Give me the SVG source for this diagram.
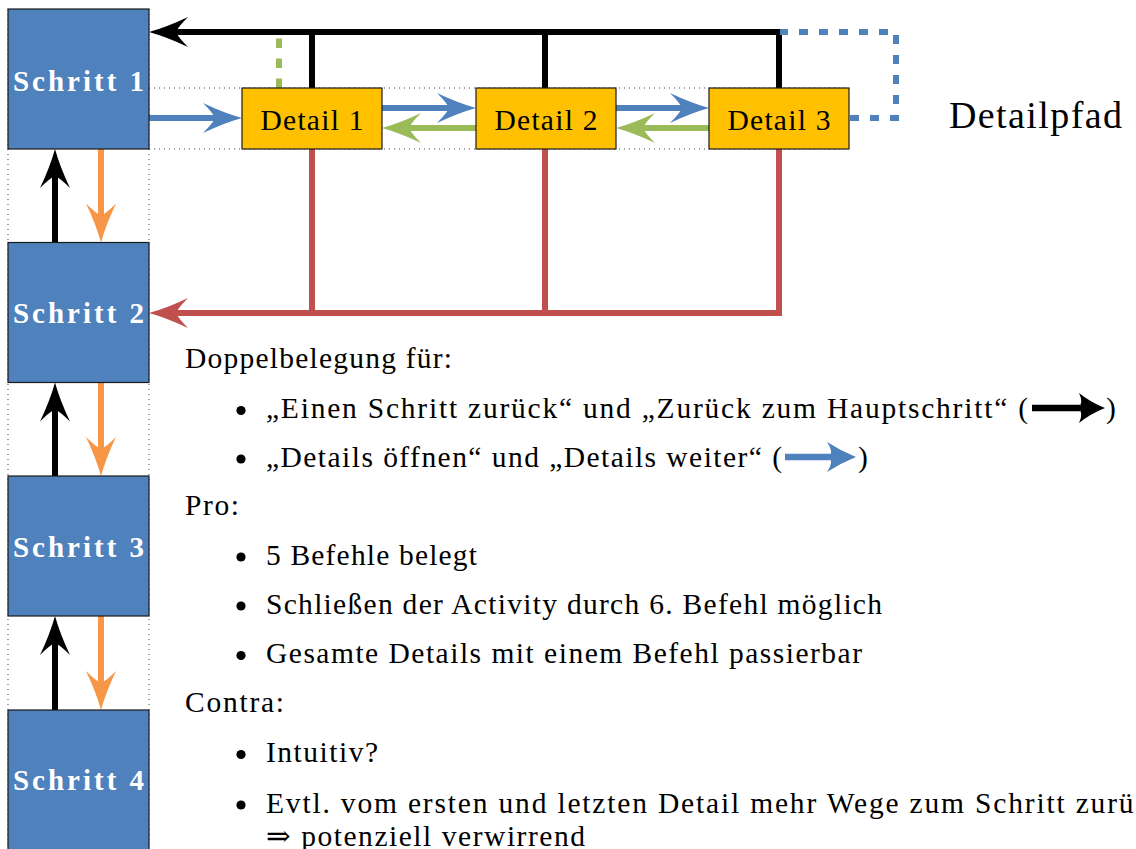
<svg xmlns="http://www.w3.org/2000/svg" width="1136" height="849" viewBox="0 0 1136 849">
  <style>
    .step { fill: #4F81BD; stroke: #1a1a1a; stroke-width: 1.2; }
    .detail { fill: #FFC000; stroke: #1a1a1a; stroke-width: 1.2; }
    .steplabel { font-weight: bold; font-size: 29px; fill: #ffffff; text-anchor: middle; }
    .detaillabel { font-size: 29.5px; fill: #000000; text-anchor: middle; }
    .body { font-size: 29.5px; fill: #000000; }
    .big { font-size: 38px; }
    .guide { stroke: #444444; stroke-width: 1; stroke-dasharray: 1 4; fill: none; }
    .wire { fill: none; stroke-width: 6; stroke-linejoin: miter; }
    .black { stroke: #000000; }
    .blue { stroke: #4F81BD; }
    .green { stroke: #9BBB59; }
    .red { stroke: #C0504D; }
    .orange { stroke: #F79646; }
  </style>
  <defs>
    <!-- notched arrowhead; the line ends at the notch, the tip sits 26px ahead -->
    <path id="head" d="M0,0 Q-18,-5 -39,-15 Q-29,-5 -27,0 Q-29,5 -39,15 Q-18,5 0,0 Z"/>
    <marker id="ah-black" markerUnits="userSpaceOnUse" orient="auto" refX="-26" refY="0" overflow="visible" markerWidth="1" markerHeight="1">
      <use href="#head" fill="#000000"/>
    </marker>
    <marker id="ah-blue" markerUnits="userSpaceOnUse" orient="auto" refX="-26" refY="0" overflow="visible" markerWidth="1" markerHeight="1">
      <use href="#head" fill="#4F81BD"/>
    </marker>
    <marker id="ah-green" markerUnits="userSpaceOnUse" orient="auto" refX="-26" refY="0" overflow="visible" markerWidth="1" markerHeight="1">
      <use href="#head" fill="#9BBB59"/>
    </marker>
    <marker id="ah-red" markerUnits="userSpaceOnUse" orient="auto" refX="-26" refY="0" overflow="visible" markerWidth="1" markerHeight="1">
      <use href="#head" fill="#C0504D"/>
    </marker>
    <marker id="ah-orange" markerUnits="userSpaceOnUse" orient="auto" refX="-26" refY="0" overflow="visible" markerWidth="1" markerHeight="1">
      <use href="#head" fill="#F79646"/>
    </marker>
  </defs>

  <rect width="1136" height="849" fill="#ffffff"/>

  <!-- dotted frames around the step column and the detail row -->
  <g id="guides">
    <path class="guide" d="M8,9 V849 M149,9 V849"/>
    <path class="guide" d="M149,88 H849 M149,149 H849"/>
  </g>

  <!-- connectors -->
  <g id="connectors">
    <!-- back to main step (black bus) -->
    <path class="wire black" d="M779,88 V32 H175" marker-end="url(#ah-black)"/>
    <path class="wire black" d="M545,88 V32 M312,88 V32"/>
    <!-- one step back (red bus) -->
    <path class="wire red" d="M779,149 V313 H175" marker-end="url(#ah-red)"/>
    <path class="wire red" d="M545,149 V313 M312,149 V313"/>
    <!-- green dashed stub from Detail 1 -->
    <path class="wire green" d="M279,88 V32" stroke-dasharray="9.5 10.5"/>
    <!-- blue dashed loop from Detail 3 -->
    <path class="wire blue" d="M850,118 H896 V32 H780" stroke-dasharray="9 11"/>
    <!-- open details / next detail -->
    <path class="wire blue" d="M149,118 H216" marker-end="url(#ah-blue)"/>
    <path class="wire blue" d="M382,108 H450" marker-end="url(#ah-blue)"/>
    <path class="wire blue" d="M616,108 H683" marker-end="url(#ah-blue)"/>
    <!-- previous detail -->
    <path class="wire green" d="M476,128 H408" marker-end="url(#ah-green)"/>
    <path class="wire green" d="M709,128 H642" marker-end="url(#ah-green)"/>
    <!-- step column: up (black) and down (orange) -->
    <path class="wire black" d="M55,242.5 V175" marker-end="url(#ah-black)"/>
    <path class="wire orange" d="M101,149 V216.5" marker-end="url(#ah-orange)"/>
    <path class="wire black" d="M55,476 V408.5" marker-end="url(#ah-black)"/>
    <path class="wire orange" d="M101,382.5 V450" marker-end="url(#ah-orange)"/>
    <path class="wire black" d="M55,710 V642" marker-end="url(#ah-black)"/>
    <path class="wire orange" d="M101,616 V684" marker-end="url(#ah-orange)"/>
  </g>

  <g font-family="Liberation Serif, DejaVu Serif, Noto Serif, FreeSerif, Tinos, Nimbus Roman, serif">
  <!-- step nodes -->
  <g id="schritt1">
    <rect class="step" x="8" y="9" width="141" height="140"/>
    <text class="steplabel" x="78.5" y="90.5" textLength="131">Schritt 1</text>
  </g>
  <g id="schritt2">
    <rect class="step" x="8" y="242.5" width="141" height="140"/>
    <text class="steplabel" x="78.5" y="323" textLength="131">Schritt 2</text>
  </g>
  <g id="schritt3">
    <rect class="step" x="8" y="476" width="141" height="140"/>
    <text class="steplabel" x="78.5" y="556.5" textLength="131">Schritt 3</text>
  </g>
  <g id="schritt4">
    <rect class="step" x="8" y="710" width="141" height="140"/>
    <text class="steplabel" x="78.5" y="790" textLength="131">Schritt 4</text>
  </g>

  <!-- detail nodes -->
  <g id="detail1">
    <rect class="detail" x="242" y="88" width="140" height="61"/>
    <text class="detaillabel" x="312" y="129.5" textLength="103">Detail 1</text>
  </g>
  <g id="detail2">
    <rect class="detail" x="476" y="88" width="140" height="61"/>
    <text class="detaillabel" x="546" y="129.5" textLength="103">Detail 2</text>
  </g>
  <g id="detail3">
    <rect class="detail" x="709" y="88" width="140" height="61"/>
    <text class="detaillabel" x="779" y="129.5" textLength="103">Detail 3</text>
  </g>

  <g id="detailpfad">
    <text class="body big" x="949" y="128" textLength="173">Detailpfad</text>
  </g>

  <!-- notes -->
  <g id="notes">
    <text class="body" x="185" y="368" textLength="267">Doppelbelegung für:</text>

    <circle cx="241" cy="410.5" r="4.6"/>
    <text class="body" x="266" y="418" textLength="762">„Einen Schritt zurück“ und „Zurück zum Hauptschritt“ (</text>
    <path d="M1032,408 H1080" stroke="#000000" stroke-width="6.5" fill="none"/>
    <path d="M1105,408 Q1090,402 1079,393 Q1084,403 1078,408 Q1084,413 1079,423 Q1090,414 1105,408 Z" fill="#000000"/>
    <text class="body" x="1106" y="418">)</text>

    <circle cx="241" cy="459" r="4.6"/>
    <text class="body" x="266" y="466.5" textLength="516">„Details öffnen“ und „Details weiter“ (</text>
    <path d="M785,457 H832" stroke="#4F81BD" stroke-width="6.5" fill="none"/>
    <path d="M856,457 Q841,451 827,442 Q834,452 829,457 Q834,462 827,472 Q841,463 856,457 Z" fill="#4F81BD"/>
    <text class="body" x="858" y="466.5">)</text>

    <text class="body" x="185" y="515" textLength="54">Pro:</text>

    <circle cx="241" cy="557" r="4.6"/>
    <text class="body" x="266" y="564.5" textLength="211">5 Befehle belegt</text>
    <circle cx="241" cy="606" r="4.6"/>
    <text class="body" x="266" y="613.5" textLength="616">Schließen der Activity durch 6. Befehl möglich</text>
    <circle cx="241" cy="655.5" r="4.6"/>
    <text class="body" x="266" y="663" textLength="596">Gesamte Details mit einem Befehl passierbar</text>

    <text class="body" x="185" y="712" textLength="99">Contra:</text>

    <circle cx="241" cy="754.5" r="4.6"/>
    <text class="body" x="266" y="762" textLength="112">Intuitiv?</text>
    <circle cx="241" cy="805" r="4.6"/>
    <text class="body" x="266" y="812.5" textLength="899">Evtl. vom ersten und letzten Detail mehr Wege zum Schritt zurück</text>
    <text class="body" x="266" y="846" textLength="319">⇒ potenziell verwirrend</text>
  </g>
  </g>
</svg>
